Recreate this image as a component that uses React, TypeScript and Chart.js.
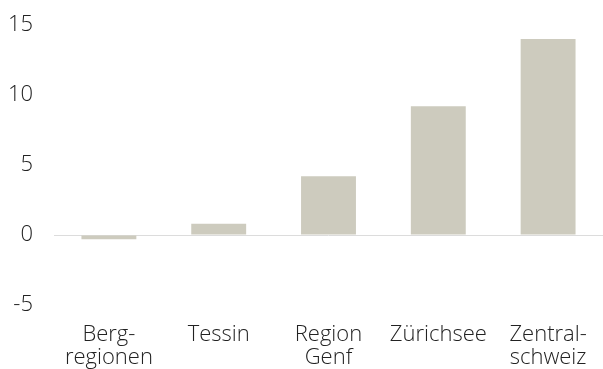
import React, { useEffect, useRef } from "react";
import { Chart, registerables } from "chart.js";

Chart.register(...registerables);

const categories: string[][] = [
  ["Berg-", "regionen"],
  ["Tessin"],
  ["Region", "Genf"],
  ["Zürichsee"],
  ["Zentral-", "schweiz"],
];
const values: number[] = [-0.3, 0.8, 4.2, 9.2, 14.0];
const yMin = -5;
const yMax = 15;
const yStep = 5;

export default function App() {
  const ref = useRef<HTMLCanvasElement | null>(null);
  useEffect(() => {
    if (!ref.current) return;
    const font = { family: "'Open Sans', 'Noto Sans', sans-serif", size: 22, weight: "300" as any };
    const chart = new Chart(ref.current, {
      type: "bar",
      data: {
        labels: categories,
        datasets: [
          {
            data: values,
            backgroundColor: "#cdcbbe",
            borderWidth: 0,
            categoryPercentage: 1,
            barPercentage: 0.5,
          },
        ],
      },
      options: {
        animation: false,
        responsive: false,
        maintainAspectRatio: false,
        layout: { padding: { top: 25, right: 0, bottom: 0, left: 0 } },
        plugins: { legend: { display: false }, tooltip: { enabled: false } },
        scales: {
          x: {
            offset: true,
            afterFit: (s: any) => {
              s.height = 64;
              s.paddingLeft = 0;
              s.paddingRight = 0;
            },
            grid: { display: false },
            border: { display: false },
            ticks: {
              color: "#222",
              font: { ...font, lineHeight: 1.04 },
              padding: 10,
              maxRotation: 0,
              autoSkip: false,
            },
          },
          y: {
            min: yMin,
            max: yMax,
            afterFit: (s: any) => {
              s.width = 54;
              s.paddingTop = 0;
              s.paddingBottom = 0;
            },
            grid: {
              color: (ctx: any) => (ctx.tick && ctx.tick.value === 0 ? "#dcdcdc" : "rgba(0,0,0,0)"),
              lineWidth: 1,
              drawTicks: false,
            },
            border: { display: false },
            ticks: {
              stepSize: yStep,
              color: "#222",
              font,
              padding: 21,
            },
          },
        },
      },
    });
    return () => chart.destroy();
  }, []);
  return (
    <div style={{ position: "absolute", left: 0, top: 0, width: 603, height: 369, background: "#fff" }}>
      <canvas ref={ref} width={603} height={369} style={{ width: 603, height: 369 }} />
    </div>
  );
}
